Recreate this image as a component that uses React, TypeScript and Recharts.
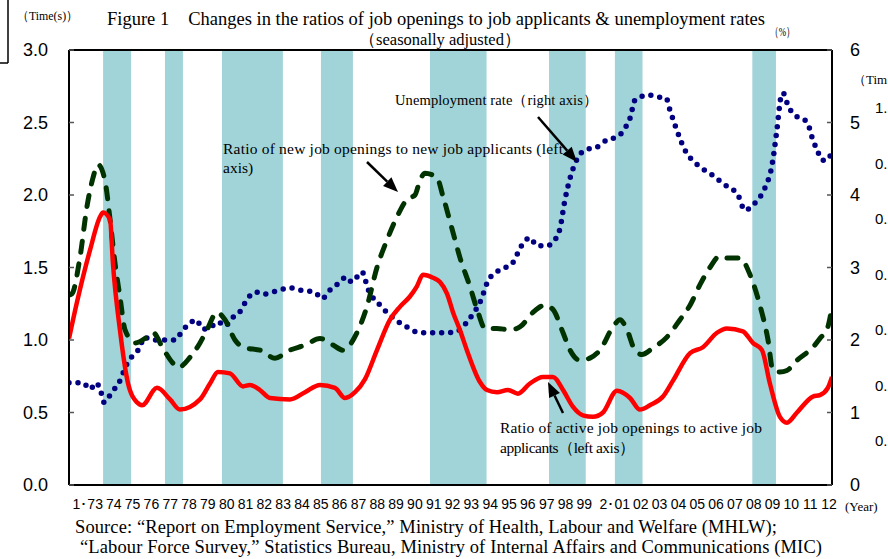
import React from 'react';
import { LineChart, Line, XAxis, YAxis, ReferenceArea, ReferenceLine } from 'recharts';

// Recession periods (shaded)
const recessionStarts = [1973.8, 1977.07, 1980.08, 1985.31, 1991.07, 1997.36, 2000.84, 2008.1];
const recessionEnds = [1975.28, 1978.02, 1983.3, 1987.0, 1994.06, 1999.3, 2002.3, 2009.35];

// Ratio of active job openings to active job applicants (left axis)
const activeT = [1972.0, 1972.42, 1973.11, 1973.64, 1973.8, 1974.17, 1974.32, 1974.69, 1975.12, 1975.59, 1975.86, 1976.65, 1977.34, 1977.86, 1978.92, 1979.45, 1979.87, 1980.5, 1981.19, 1981.56, 1982.09, 1982.62, 1983.67, 1984.47, 1985.26, 1986.05, 1986.58, 1987.11, 1987.64, 1988.27, 1988.96, 1989.49, 1990.01, 1990.38, 1990.7, 1991.23, 1991.6, 1991.97, 1992.29, 1992.65, 1993.02, 1993.71, 1994.08, 1994.61, 1995.19, 1995.72, 1996.35, 1997.04, 1997.57, 1998.1, 1998.62, 1999.15, 1999.68, 2000.21, 2000.95, 2001.64, 2002.16, 2002.69, 2003.38, 2003.91, 2004.81, 2005.49, 2006.23, 2006.76, 2007.6, 2008.13, 2008.61, 2009.03, 2009.56, 2009.93, 2010.46, 2011.3, 2011.67, 2012.09, 2012.31];
const activeV = [1.01, 1.26, 1.62, 1.85, 1.88, 1.83, 1.53, 1.07, 0.7, 0.57, 0.55, 0.67, 0.59, 0.52, 0.59, 0.7, 0.78, 0.77, 0.68, 0.69, 0.655, 0.6, 0.59, 0.64, 0.69, 0.67, 0.6, 0.64, 0.73, 0.93, 1.14, 1.23, 1.3, 1.37, 1.45, 1.43, 1.4, 1.32, 1.19, 1.07, 0.93, 0.71, 0.655, 0.64, 0.655, 0.63, 0.7, 0.745, 0.745, 0.655, 0.54, 0.48, 0.47, 0.5, 0.65, 0.6, 0.52, 0.55, 0.61, 0.72, 0.91, 0.95, 1.05, 1.08, 1.06, 0.98, 0.93, 0.7, 0.47, 0.43, 0.5, 0.61, 0.62, 0.67, 0.745];

// Ratio of new job openings to new job applicants (left axis)
const newT = [1972.0, 1972.16, 1972.58, 1972.95, 1973.27, 1973.53, 1973.9, 1974.17, 1974.43, 1974.69, 1974.96, 1975.49, 1976.12, 1976.44, 1976.97, 1977.49, 1977.76, 1978.39, 1978.92, 1979.29, 1979.82, 1980.24, 1980.77, 1981.3, 1982.09, 1982.88, 1983.67, 1984.47, 1985.26, 1985.95, 1986.47, 1987.21, 1987.74, 1988.27, 1988.8, 1989.33, 1989.86, 1990.28, 1990.54, 1990.81, 1991.44, 1991.76, 1992.29, 1992.65, 1993.18, 1993.61, 1993.98, 1994.61, 1995.3, 1995.82, 1996.51, 1997.15, 1997.57, 1998.1, 1998.47, 1999.0, 1999.52, 2000.05, 2000.74, 2001.11, 2001.48, 2001.9, 2002.27, 2002.85, 2003.59, 2004.28, 2004.81, 2005.33, 2005.86, 2006.39, 2006.81, 2007.45, 2007.98, 2008.5, 2008.93, 2009.19, 2009.56, 2009.93, 2010.46, 2011.3, 2011.67, 2012.09, 2012.31];
const newV = [1.31, 1.32, 1.57, 1.92, 2.12, 2.21, 2.1, 1.83, 1.53, 1.3, 1.07, 0.98, 1.02, 1.05, 0.94, 0.84, 0.81, 0.88, 0.98, 1.07, 1.19, 1.14, 1.0, 0.945, 0.93, 0.875, 0.93, 0.965, 1.01, 0.965, 0.93, 1.05, 1.23, 1.5, 1.69, 1.85, 1.97, 2.0, 2.1, 2.15, 2.12, 1.99, 1.74, 1.57, 1.37, 1.19, 1.08, 1.08, 1.07, 1.09, 1.19, 1.24, 1.21, 1.05, 0.93, 0.86, 0.875, 0.93, 1.09, 1.14, 1.07, 0.93, 0.9, 0.945, 1.02, 1.14, 1.24, 1.38, 1.5, 1.58, 1.565, 1.565, 1.45, 1.24, 1.0, 0.79, 0.78, 0.79, 0.86, 0.95, 1.01, 1.09, 1.23];

// Unemployment rate (right axis, %)
const unempT = [1972.0, 1972.74, 1973.11, 1973.43, 1973.69, 1973.85, 1974.06, 1974.32, 1974.64, 1974.85, 1975.06, 1975.38, 1975.75, 1975.96, 1976.38, 1976.97, 1977.6, 1978.02, 1978.39, 1978.71, 1979.08, 1979.5, 1979.87, 1980.24, 1980.61, 1981.03, 1981.46, 1981.88, 1982.2, 1982.62, 1983.15, 1983.67, 1984.2, 1984.99, 1985.36, 1985.79, 1986.32, 1986.63, 1986.95, 1987.48, 1987.8, 1988.43, 1989.06, 1989.91, 1990.54, 1991.86, 1992.39, 1993.18, 1993.76, 1994.13, 1994.77, 1995.4, 1995.93, 1996.35, 1996.72, 1997.25, 1997.67, 1997.94, 1998.2, 1998.47, 1998.78, 1999.26, 1999.89, 2000.42, 2000.95, 2001.37, 2001.64, 2001.9, 2002.16, 2002.59, 2003.11, 2003.54, 2003.75, 2004.01, 2004.54, 2005.23, 2005.97, 2006.65, 2007.34, 2007.71, 2008.24, 2008.77, 2009.14, 2009.4, 2009.61, 2009.72, 2009.98, 2010.19, 2010.62, 2010.99, 2011.25, 2011.57, 2011.78, 2011.99, 2012.31];
const unempV = [1.41, 1.41, 1.32, 1.41, 1.28, 1.14, 1.2, 1.3, 1.41, 1.54, 1.67, 1.79, 1.9, 2.04, 2.0, 2.0, 2.0, 2.14, 2.23, 2.28, 2.15, 2.18, 2.25, 2.19, 2.3, 2.39, 2.58, 2.66, 2.63, 2.65, 2.69, 2.72, 2.69, 2.66, 2.57, 2.69, 2.8, 2.87, 2.8, 2.94, 2.7, 2.48, 2.32, 2.17, 2.1, 2.1, 2.11, 2.3, 2.55, 2.81, 2.97, 3.05, 3.31, 3.41, 3.3, 3.3, 3.38, 3.54, 3.93, 4.23, 4.46, 4.62, 4.66, 4.76, 4.8, 4.92, 5.06, 5.31, 5.35, 5.38, 5.35, 5.34, 5.17, 4.97, 4.62, 4.41, 4.28, 4.14, 4.0, 3.79, 3.89, 4.1, 4.41, 4.9, 5.35, 5.41, 5.24, 5.14, 5.06, 5.01, 4.8, 4.59, 4.48, 4.48, 4.59];

// Axis ticks and labels
const tickYears = Array.from({ length: 40 }, (_, i) => 1973 + i);
const yearLabels = ['1･73', '74', '75', '76', '77', '78', '79', '80', '81', '82', '83', '84', '85', '86', '87', '88', '89', '90', '91', '92', '93', '94', '95', '96', '97', '98', '99', '', '2･01', '02', '03', '04', '05', '06', '07', '08', '09', '10', '11', '12'];
const leftTicks = [0, 0.5, 1, 1.5, 2, 2.5, 3];
const rightTicks = [0, 1, 2, 3, 4, 5, 6];
const sideLabels = ['1.', '0.', '0.', '0.', '0.', '0.', '0.'];

const activeData = activeT.map((t, i) => ({ t, v: activeV[i] }));
const newData = newT.map((t, i) => ({ t, v: newV[i] }));
const unempData = unempT.map((t, i) => ({ t, v: unempV[i] }));
const xTicks = tickYears.map((y) => y + 0.37 - 0.0056 * (y - 1973));

const SERIF = '"Liberation Serif", "Times New Roman", serif';
const SANS = '"Liberation Sans", Arial, sans-serif';

const XTick = (props: any) => {
  const { x, y, index } = props;
  const label = yearLabels[index] ?? '';
  const joined = label.includes('･');
  return (
    <text
      x={joined ? x + 8 : x}
      y={y}
      dy={16}
      textAnchor={joined ? 'end' : 'middle'}
      fontSize={14}
      fontFamily={SANS}
      fill="#000"
    >
      {label}
    </text>
  );
};

const Arrow = ({ x1, y1, x2, y2 }: { x1: number; y1: number; x2: number; y2: number }) => {
  const ang = Math.atan2(y2 - y1, x2 - x1);
  const len = 15;
  const half = 6;
  const bx = x2 - len * Math.cos(ang);
  const by = y2 - len * Math.sin(ang);
  const px = -Math.sin(ang) * half;
  const py = Math.cos(ang) * half;
  return (
    <g>
      <line x1={x1} y1={y1} x2={bx} y2={by} stroke="#000" strokeWidth={2.5} />
      <polygon points={`${x2},${y2} ${bx + px},${by + py} ${bx - px},${by - py}`} fill="#000" />
    </g>
  );
};

export default function App() {
  return (
    <div style={{ position: 'absolute', left: 0, top: 0, width: 888, height: 559, background: '#fff' }}>
      <LineChart width={888} height={559} margin={{ top: 50, right: 6, bottom: 44, left: 9 }}>
        <XAxis
          dataKey="t"
          type="number"
          domain={[1972, 2012.31]}
          allowDataOverflow
          ticks={xTicks}
          interval={0}
          tickLine={false}
          tick={<XTick />}
          axisLine={{ stroke: '#000', strokeWidth: 2 }}
          height={30}
        />
        <YAxis
          yAxisId="left"
          orientation="left"
          domain={[0, 3]}
          ticks={leftTicks}
          interval={0}
          width={60}
          tickSize={-5}
          tickMargin={26}
          tickLine={{ stroke: '#555', strokeWidth: 1.5 }}
          axisLine={{ stroke: '#000', strokeWidth: 2 }}
          tickFormatter={(v: number) => v.toFixed(1)}
          tick={{ fill: '#000', fontSize: 18, fontFamily: SANS }}
        />
        <YAxis
          yAxisId="right"
          orientation="right"
          domain={[0, 6]}
          ticks={rightTicks}
          interval={0}
          width={50}
          tickSize={-5}
          tickMargin={23}
          tickLine={{ stroke: '#555', strokeWidth: 1.5 }}
          axisLine={{ stroke: '#000', strokeWidth: 2 }}
          tick={{ fill: '#000', fontSize: 18, fontFamily: SANS }}
        />
        {recessionStarts.map((s, i) => (
          <ReferenceArea
            key={'r' + i}
            yAxisId="left"
            x1={s}
            x2={recessionEnds[i]}
            fill="#A0D4D8"
            fillOpacity={1}
            stroke="none"
          />
        ))}
        <ReferenceLine yAxisId="left" y={3} stroke="#000" strokeWidth={2} />
        <Line
          yAxisId="right"
          data={unempData}
          dataKey="v"
          type="monotone"
          stroke="#000080"
          strokeWidth={5.5}
          strokeDasharray="0 9"
          strokeLinecap="round"
          dot={false}
          activeDot={false}
          isAnimationActive={false}
        />
        <Line
          yAxisId="left"
          data={newData}
          dataKey="v"
          type="monotone"
          stroke="#003300"
          strokeWidth={5}
          strokeDasharray="11 12"
          strokeLinecap="round"
          dot={false}
          activeDot={false}
          isAnimationActive={false}
        />
        <Line
          yAxisId="left"
          data={activeData}
          dataKey="v"
          type="monotone"
          stroke="#FF0000"
          strokeWidth={4.5}
          dot={false}
          activeDot={false}
          isAnimationActive={false}
        />
      </LineChart>
      <svg
        width={888}
        height={559}
        style={{ position: 'absolute', left: 0, top: 0, pointerEvents: 'none' }}
      >
        <line x1={8} y1={0} x2={8} y2={63} stroke="#000" strokeWidth={1.5} />
        <line x1={0} y1={63} x2={8} y2={63} stroke="#000" strokeWidth={1.5} />
        <text x={17} y={20} fontSize={13} fontFamily={SERIF} textLength={61} lengthAdjust="spacingAndGlyphs">（Time(s)）</text>
        <text x={107} y={25} fontSize={18.5} fontFamily={SERIF} textLength={658} lengthAdjust="spacing">
          Figure 1　Changes in the ratios of job openings to job applicants &amp; unemployment rates
        </text>
        <text x={440} y={45} fontSize={16.5} fontFamily={SERIF} textAnchor="middle">（seasonally adjusted）</text>
        <text x={770} y={36} fontSize={13} fontFamily={SERIF} textLength={25} lengthAdjust="spacingAndGlyphs">（%）</text>
        <text x={853} y={84} fontSize={13} fontFamily={SERIF}>（Tim</text>
        {sideLabels.map((s, i) => (
          <text key={'s' + i} x={875} y={113 + i * 55.5} fontSize={15} fontFamily={SANS}>{s}</text>
        ))}
        <text x={845} y={511} fontSize={13} fontFamily={SERIF}>(Year)</text>
        <text x={395} y={105} fontSize={14.5} fontFamily={SERIF} textLength={203} lengthAdjust="spacing">Unemployment rate（right axis）</text>
        <text x={223} y={154} fontSize={15.5} fontFamily={SERIF} textLength={340} lengthAdjust="spacing">Ratio of new job openings to new job applicants (left</text>
        <text x={223} y={173} fontSize={15.5} fontFamily={SERIF}>axis)</text>
        <text x={500} y={433} fontSize={15.5} fontFamily={SERIF} textLength={262} lengthAdjust="spacing">Ratio of active job openings to active job</text>
        <text x={500} y={453} fontSize={15.5} fontFamily={SERIF} textLength={135} lengthAdjust="spacing">applicants（left axis）</text>
        <Arrow x1={538} y1={117} x2={577} y2={162} />
        <Arrow x1={367} y1={162} x2={398} y2={192} />
        <Arrow x1={563} y1={413} x2={548} y2={382} />
        <text x={75} y={533} fontSize={18.5} fontFamily={SERIF} textLength={702} lengthAdjust="spacing">
          Source: “Report on Employment Service,” Ministry of Health, Labour and Welfare (MHLW);
        </text>
        <text x={80} y={553} fontSize={18.5} fontFamily={SERIF} textLength={742} lengthAdjust="spacing">
          “Labour Force Survey,” Statistics Bureau, Ministry of Internal Affairs and Communications (MIC)
        </text>
      </svg>
    </div>
  );
}
